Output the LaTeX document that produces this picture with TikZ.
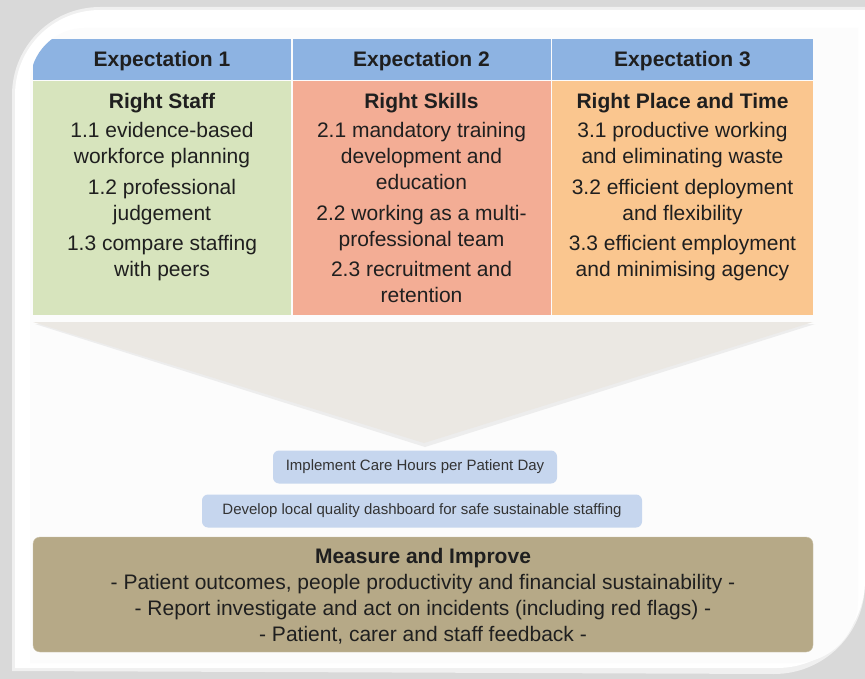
\documentclass[tikz,border=0pt]{standalone}
\usepackage{fontspec}
\setmainfont{Liberation Sans}
\usetikzlibrary{positioning}
\definecolor{bggrey}{HTML}{D9D9D9}
\definecolor{hdrblue}{HTML}{8DB3E2}
\definecolor{staffgreen}{HTML}{D7E4BD}
\definecolor{skillred}{HTML}{F3AD95}
\definecolor{placeorange}{HTML}{FAC68F}
\definecolor{funnel}{HTML}{EBE8E3}
\definecolor{pillblue}{HTML}{C6D6EE}
\definecolor{measbrown}{HTML}{B6A987}

\begin{document}
\begin{tikzpicture}[x=1pt,y=-1pt,node distance=12pt,
    hdr/.style={fill=hdrblue,minimum height=41pt,inner sep=0pt,text=black!88,
      text height=15pt,text depth=1pt,font=\fontsize{21}{25}\selectfont\bfseries},
    cellbg/.style={minimum height=233.5pt,inner sep=0pt},
    celltxt/.style={align=center,inner sep=0pt,text=black!88,
      font=\fontsize{21}{26}\selectfont},
    pill/.style={fill=pillblue,rounded corners=6pt,minimum height=33pt,inner sep=0pt,
      text=black!80,font=\fontsize{15}{18}\selectfont},
    measbox/.style={fill=measbrown,draw=measbrown!70!white,rounded corners=7pt,
      minimum width=780pt,minimum height=115pt,inner sep=0pt}]
  \useasboundingbox (0,0) rectangle (865,679);
  \fill[bggrey] (0,0) rectangle (865,679);
  % card
  \fill[black!6] (12,671) -- (12,95) arc[start angle=180,end angle=270,radius=88]
    -- (865,7) -- (865,583) arc[start angle=0,end angle=90,radius=91] -- cycle;
  \fill[white] (15,668) -- (15,95) arc[start angle=180,end angle=270,radius=85]
    -- (865,10) -- (865,580) arc[start angle=0,end angle=90,radius=88] -- cycle;
  \begin{scope}
    \path[clip] (30,663) -- (30,83) arc[start angle=180,end angle=270,radius=55]
      -- (858,28) -- (858,600) arc[start angle=0,end angle=90,radius=63] -- cycle;
    \fill[black!1] (0,0) rectangle (865,679);

    \node[hdr,minimum width=258pt] (exp_1) at (162,59.5) {Expectation 1};
    \node[hdr,minimum width=258pt] (exp_2) at (421.5,59.5) {Expectation 2};
    \node[hdr,minimum width=261pt] (exp_3) at (682.5,59.5) {Expectation 3};

    \node[cellbg,fill=staffgreen,minimum width=258pt] (col_1) at (162,198.25) {};
    \node[cellbg,fill=skillred,minimum width=258pt] (col_2) at (421.5,198.25) {};
    \node[cellbg,fill=placeorange,minimum width=261pt] (col_3) at (682.5,198.25) {};

    \node[celltxt,below=12pt of col_1.north] (staff) {\textbf{Right Staff}\\[3pt]
      1.1 evidence-based\\workforce planning\\[4.5pt]
      1.2 professional\\judgement\\[4.5pt]
      1.3 compare staffing\\with peers};
    \node[celltxt,below=12pt of col_2.north] (skills) {\textbf{Right Skills}\\[3pt]
      2.1 mandatory training\\development and\\education\\[4.5pt]
      2.2 working as a multi-\\professional team\\[4.5pt]
      2.3 recruitment and\\retention};
    \node[celltxt,below=12pt of col_3.north] (place) {\textbf{Right Place and Time}\\[3pt]
      3.1 productive working\\and eliminating waste\\[4.5pt]
      3.2 efficient deployment\\and flexibility\\[4.5pt]
      3.3 efficient employment\\and minimising agency};

    % funnel
    \fill[black!7] (35,324) -- (815,324) -- (425,447) -- cycle;
    \fill[funnel] (33,322) -- (813,322) -- (424,443) -- cycle;
  \end{scope}

  \node[pill,minimum width=284pt] (hrs) at (415,467) {Implement Care Hours per Patient Day};
  \node[pill,minimum width=440pt] (dash) at (422,511) {Develop local quality dashboard for safe sustainable staffing};

  \node[measbox] (meas) at (423,594.5) {};
  \node[celltxt,below=11pt of meas.north] (meas_txt) {\textbf{Measure and Improve}\\
    - Patient outcomes, people productivity and financial sustainability -\\
    - Report investigate and act on incidents (including red flags) -\\
    - Patient, carer and staff feedback -};
\end{tikzpicture}
\end{document}
